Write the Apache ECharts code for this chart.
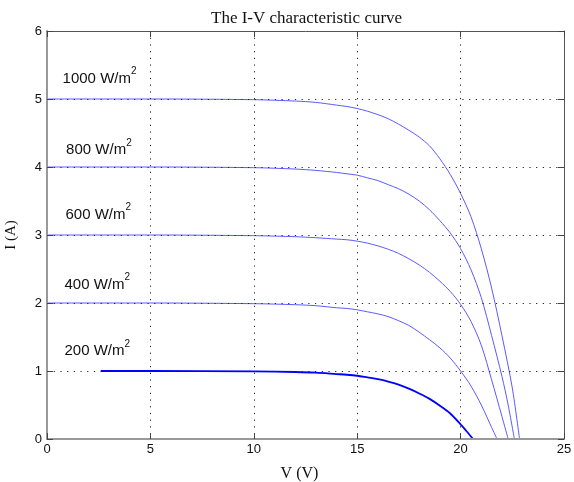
<!DOCTYPE html>
<html>
<head>
<meta charset="utf-8">
<script src="https://cdn.jsdelivr.net/npm/echarts@6/dist/echarts.min.js"></script>
<style>
  html, body { margin: 0; padding: 0; background: #fff; }
  #chart { width: 574px; height: 482px; }
</style>
</head>
<body>
<div id="chart"></div>
<script>
  // curve data (V in volts, I in amps)
  const V1000 = [0, 5, 10, 12, 13, 14, 14.5, 15, 15.5, 16, 16.5, 17, 17.5, 18, 18.5, 19, 19.5, 20, 20.5, 21, 21.5, 22, 22.5, 22.85];
  const I1000 = [5.0, 5.0, 4.99, 4.97, 4.95, 4.91, 4.89, 4.86, 4.82, 4.77, 4.71, 4.63, 4.54, 4.44, 4.31, 4.12, 3.89, 3.61, 3.27, 2.80, 2.22, 1.52, 0.75, 0];

  const V800 = [0, 5, 10, 12, 13, 14, 14.5, 15, 15.5, 16, 16.5, 17, 17.5, 18, 18.5, 19, 19.5, 20, 20.5, 21, 21.5, 22, 22.3, 22.6];
  const I800 = [4.0, 4.0, 3.99, 3.97, 3.95, 3.92, 3.90, 3.88, 3.84, 3.80, 3.74, 3.68, 3.60, 3.50, 3.37, 3.21, 3.03, 2.80, 2.49, 2.08, 1.52, 0.92, 0.50, 0];

  const V600 = [0, 5, 10, 12, 13, 14, 14.5, 15, 15.5, 16, 16.5, 17, 17.5, 18, 18.5, 19, 19.5, 20, 20.5, 21, 21.5, 22, 22.3];
  const I600 = [3.0, 3.0, 2.99, 2.975, 2.96, 2.94, 2.93, 2.91, 2.88, 2.84, 2.79, 2.73, 2.65, 2.56, 2.45, 2.32, 2.17, 1.98, 1.73, 1.38, 0.87, 0.33, 0];

  const V400 = [0, 5, 10, 12, 13, 14, 14.5, 15, 15.5, 16, 16.5, 17, 17.5, 18, 18.5, 19, 19.5, 20, 20.5, 21, 21.5, 21.76];
  const I400 = [2.0, 2.0, 1.99, 1.975, 1.96, 1.93, 1.92, 1.90, 1.87, 1.84, 1.80, 1.74, 1.67, 1.57, 1.46, 1.34, 1.19, 1.00, 0.78, 0.50, 0.17, 0];

  const V200 = [2.6, 5, 10, 12, 13, 14, 14.5, 15, 15.5, 16, 16.5, 17, 17.5, 18, 18.5, 19, 19.5, 20, 20.3, 20.6];
  const I200 = [1.0, 1.0, 0.995, 0.985, 0.975, 0.955, 0.945, 0.93, 0.905, 0.88, 0.845, 0.80, 0.74, 0.67, 0.59, 0.49, 0.375, 0.215, 0.11, 0];

  const irradiance = ['1000', '800', '600', '400', '200'];
  // where each irradiance label sits (V, I of the text centre)
  const labelV = [0.73, 0.9, 0.87, 0.82, 0.82];
  const labelI = [5.30, 4.25, 3.30, 2.27, 1.29];

  const xTicks = [0, 5, 10, 15, 20, 25];
  const yTicks = [0, 1, 2, 3, 4, 5, 6];

  const curves = [[V1000, I1000], [V800, I800], [V600, I600], [V400, I400], [V200, I200]];

  function zip(vs, is) {
    let out = [];
    for (let i = 0; i < vs.length; i++) out.push([vs[i], is[i]]);
    return out;
  }

  let myChart = echarts.init(document.getElementById('chart'));

  const gridLine = { show: true, lineStyle: { color: '#222', width: 1, type: [1.2, 5.5] } };
  const labelFont = { fontFamily: 'Liberation Sans', fontSize: 13, color: '#111' };

  let series = curves.map(function (c, k) {
    const isLow = k === 4;
    return {
      name: irradiance[k],
      type: 'line',
      data: zip(c[0], c[1]),
      smooth: 0.3,
      showSymbol: false,
      symbol: 'none',
      lineStyle: { color: isLow ? '#0000ff' : '#5a5aff', width: isLow ? 1.8 : 1 },
      z: 2,
      markPoint: {
        symbol: 'circle',
        symbolSize: 1,
        itemStyle: { color: 'rgba(0,0,0,0)' },
        label: {
          show: true,
          position: 'right',
          distance: 0,
          formatter: '{b|' + irradiance[k] + ' W/m}{s|2}',
          rich: {
            b: { fontFamily: 'Liberation Sans', fontSize: 15, color: '#111', lineHeight: 24, verticalAlign: 'middle' },
            s: { fontFamily: 'Liberation Sans', fontSize: 10, color: '#111', lineHeight: 8, verticalAlign: 'top' }
          }
        },
        data: [{ coord: [labelV[k], labelI[k]] }]
      }
    };
  });

  myChart.setOption({
    animation: false,
    backgroundColor: '#fff',
    title: {
      text: 'The I-V characteristic curve',
      left: 206,
      top: 5,
      textStyle: { fontFamily: 'Liberation Serif', fontSize: 17, fontWeight: 'normal', color: '#111' }
    },
    grid: { left: 47, right: 10, top: 31, bottom: 43, outerBoundsMode: 'none' },
    xAxis: [
      {
        type: 'value', min: 0, max: 25, interval: 5, position: 'bottom', z: 5,
        name: 'V (V)', nameLocation: 'middle', nameGap: 27,
        nameTextStyle: { fontFamily: 'Liberation Serif', fontSize: 16, color: '#111', padding: [0, 12, 0, 0] },
        axisLine: { show: true, onZero: false, lineStyle: { color: '#999', width: 2 } },
        axisTick: { show: true, inside: true, length: 6, lineStyle: { color: '#444' } },
        axisLabel: Object.assign({ margin: 4, formatter: function (v) { return xTicks.indexOf(v) >= 0 ? v : ''; } }, labelFont),
        splitLine: gridLine
      },
      {
        type: 'value', min: 0, max: 25, interval: 5, position: 'top', z: 5,
        axisLine: { show: true, onZero: false, lineStyle: { color: '#555', width: 1 } },
        axisTick: { show: true, inside: true, length: 6, lineStyle: { color: '#444' } },
        axisLabel: { show: false },
        splitLine: { show: false }
      }
    ],
    yAxis: [
      {
        type: 'value', min: 0, max: 6, interval: 1, position: 'left', z: 5,
        name: 'I (A)', nameLocation: 'middle', nameGap: 28,
        nameTextStyle: { fontFamily: 'Liberation Serif', fontSize: 15, color: '#111' },
        axisLine: { show: true, onZero: false, lineStyle: { color: '#999', width: 2 } },
        axisTick: { show: true, inside: true, length: 6, lineStyle: { color: '#444' } },
        axisLabel: Object.assign({ margin: 5, formatter: function (v) { return yTicks.indexOf(v) >= 0 ? v : ''; } }, labelFont),
        splitLine: gridLine
      },
      {
        type: 'value', min: 0, max: 6, interval: 1, position: 'right', z: 5,
        axisLine: { show: true, onZero: false, lineStyle: { color: '#555', width: 1 } },
        axisTick: { show: true, inside: true, length: 6, lineStyle: { color: '#444' } },
        axisLabel: { show: false },
        splitLine: { show: false }
      }
    ],
    series: series
  });
</script>
</body>
</html>
